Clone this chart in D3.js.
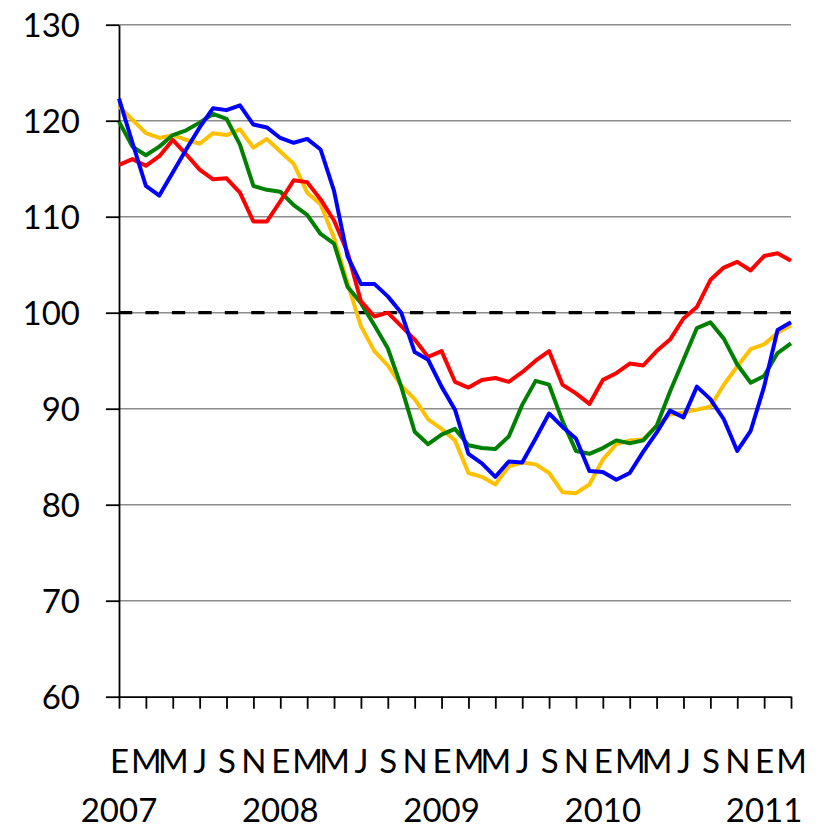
<!DOCTYPE html>
<html>
<head>
<meta charset="utf-8">
<script src="https://cdn.jsdelivr.net/npm/d3@7"></script>
<style>
  body { margin: 0; background: #fff; }
  text { font-family: Lato, "Open Sans", sans-serif; fill: #000; }
</style>
</head>
<body>
<div id="chart"></div>
<script>
// monthly index, Jan 2007 (0) .. Mar 2011 (50)
const monthLetters = ['E', 'M', 'M', 'J', 'S', 'N'];
const years = ['2007', '2008', '2009', '2010', '2011'];
const yTicks = [60, 70, 80, 90, 100, 110, 120, 130];
const refLevel = 100;

const redSeries = [
  115.4, 116.0, 115.3, 116.3, 118.0, 116.5, 114.9, 113.9, 114.0, 112.5, 109.5, 109.5,
  111.6, 113.8, 113.6, 111.8, 109.6, 106.3, 101.2, 99.6, 100.0, 98.6, 97.2, 95.4,
  96.0, 92.8, 92.2, 93.0, 93.2, 92.8, 93.8, 95.0, 96.0, 92.5, 91.6, 90.5,
  93.0, 93.7, 94.7, 94.5, 96.0, 97.2, 99.4, 100.6, 103.4, 104.7, 105.3, 104.4,
  105.9, 106.2, 105.4
];
const yellowSeries = [
  121.5, 120.1, 118.7, 118.2, 118.5, 118.0, 117.6, 118.7, 118.5, 119.1, 117.2, 118.1,
  116.8, 115.5, 112.5, 111.3, 107.8, 103.1, 98.6, 96.0, 94.5, 92.4, 91.0, 88.9,
  87.9, 86.7, 83.3, 82.9, 82.1, 84.0, 84.4, 84.2, 83.3, 81.3, 81.2, 82.1,
  84.7, 86.3, 86.7, 86.8, 88.2, 89.4, 89.6, 89.9, 90.2, 92.5, 94.4, 96.2,
  96.7, 97.9, 98.7
];
const greenSeries = [
  119.9, 117.3, 116.4, 117.3, 118.5, 119.0, 119.8, 120.7, 120.2, 117.5, 113.2, 112.8,
  112.6, 111.2, 110.2, 108.2, 107.2, 102.7, 101.0, 98.7, 96.3, 92.3, 87.6, 86.3,
  87.3, 87.9, 86.2, 85.9, 85.8, 87.1, 90.4, 92.9, 92.5, 88.7, 85.6, 85.3,
  85.9, 86.7, 86.4, 86.7, 88.2, 91.8, 95.1, 98.4, 99.0, 97.3, 94.6, 92.7,
  93.4, 95.8, 96.8
];
const blueSeries = [
  122.3, 117.7, 113.2, 112.2, 114.6, 117.0, 119.3, 121.3, 121.1, 121.6, 119.6, 119.3,
  118.2, 117.7, 118.1, 117.0, 112.7, 105.9, 103.0, 103.0, 101.7, 100.0, 95.9, 95.1,
  92.3, 89.9, 85.3, 84.3, 82.9, 84.5, 84.4, 86.9, 89.5, 88.1, 86.9, 83.5,
  83.4, 82.6, 83.3, 85.5, 87.5, 89.8, 89.1, 92.3, 91.0, 88.9, 85.6, 87.7,
  92.3, 98.2, 99.0
];

const width = 821, height = 825;
const plotLeft = 119, plotRight = 791, plotTop = 24.7, plotBottom = 696.7;

const svg = d3.select('#chart').append('svg')
  .attr('width', width)
  .attr('height', height);

const x = d3.scaleLinear().domain([0, redSeries.length - 1]).range([plotLeft, plotRight]);
const y = d3.scaleLinear().domain([60, 130]).range([plotBottom, plotTop]);

// gridlines
svg.append('g')
  .selectAll('line')
  .data(yTicks.filter(v => v > 60))
  .enter().append('line')
  .attr('x1', plotLeft).attr('x2', plotRight)
  .attr('y1', d => y(d)).attr('y2', d => y(d))
  .attr('stroke', '#8c8c8c')
  .attr('stroke-width', 1.6);

// dashed reference at 100
svg.append('line')
  .attr('x1', plotLeft).attr('x2', plotRight)
  .attr('y1', y(refLevel)).attr('y2', y(refLevel))
  .attr('stroke', '#000')
  .attr('stroke-width', 3.3)
  .attr('stroke-dasharray', '13.3,13.15');

// axes
const yAxis = d3.axisLeft(y).tickValues(yTicks).tickSize(13).tickSizeOuter(0).tickPadding(26);
const gy = svg.append('g').attr('transform', `translate(${plotLeft},0)`).call(yAxis);
gy.selectAll('text').style('font-size', '33px').attr('dy', '0.35em');

const xTicks = d3.range(0, redSeries.length, 2);
const xAxis = d3.axisBottom(x).tickValues(xTicks).tickSize(12).tickSizeOuter(0)
  .tickFormat(i => monthLetters[(i % 12) / 2]);
const gx = svg.append('g').attr('transform', `translate(0,${plotBottom})`).call(xAxis);
gx.selectAll('text').style('font-size', '33px').attr('y', 76).attr('dy', 0);

[gx, gy].forEach(g => {
  g.selectAll('path, line').attr('stroke', '#000').attr('stroke-width', 1.8);
});

// year labels under January
svg.append('g')
  .selectAll('text')
  .data(years)
  .enter().append('text')
  .attr('x', (d, k) => x(k * 12))
  .attr('y', 822)
  .attr('text-anchor', 'middle')
  .style('font-size', '33px')
  .text(d => d);

// series
const line = d3.line().x((d, i) => x(i)).y(d => y(d));
const series = [
  { values: yellowSeries, color: '#ffc000' },
  { values: greenSeries, color: '#008000' },
  { values: redSeries, color: '#ff0000' },
  { values: blueSeries, color: '#0000ff' }
];

svg.append('g')
  .selectAll('path')
  .data(series)
  .enter().append('path')
  .attr('d', d => line(d.values))
  .attr('fill', 'none')
  .attr('stroke', d => d.color)
  .attr('stroke-width', 4)
  .attr('stroke-linejoin', 'round');
</script>
</body>
</html>
